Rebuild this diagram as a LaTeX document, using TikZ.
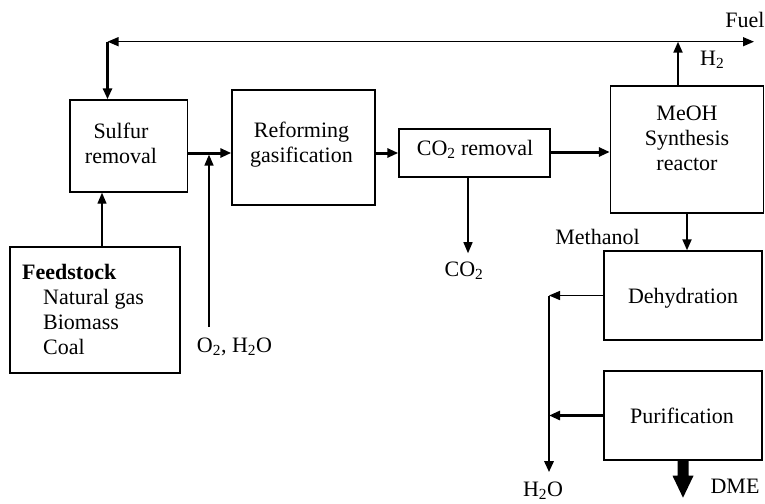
\documentclass[tikz,border=0pt]{standalone}
\usepackage{fontspec}
\setmainfont{Liberation Serif}
\usetikzlibrary{arrows.meta}
\begin{document}
\begin{tikzpicture}[x=1pt,y=-1pt,
  box/.style={draw,line width=1.4pt,inner sep=0pt},
  txt/.style={inner sep=0pt,font=\fontsize{22}{25}\selectfont},
  tip/.style={-{Triangle[length=11pt,width=9pt]}},
  tips/.style={{Triangle[length=11pt,width=9pt]}-{Triangle[length=11pt,width=9pt]}},
  thinl/.style={line width=1.3pt},
  medl/.style={line width=2pt},
  thickl/.style={line width=3pt}]
\useasboundingbox (0,0) rectangle (765,503);

% boxes
\node[box,minimum width=117.5pt,minimum height=92pt] (sulfur) at (128.75,146) {};
\node[box,minimum width=170pt,minimum height=126pt] (feed) at (95,310) {};
\node[box,minimum width=143pt,minimum height=115pt] (reform) at (303.5,147.5) {};
\node[box,minimum width=151pt,minimum height=48pt] (co2r) at (474.5,153) {};
\node[box,minimum width=153pt,minimum height=127pt] (meoh) at (687,149.5) {};
\node[box,minimum width=158pt,minimum height=89pt] (dehyd) at (683,295.5) {};
\node[box,minimum width=158pt,minimum height=89pt] (purif) at (683,415.5) {};

% texts (multi-line nodes: base = baseline of last line)
\node[txt,anchor=base,align=center] (sulfurt) at (121,163) {Sulfur\\removal};
\node[txt,anchor=base,align=center] (reformt) at (301.5,162) {Reforming\\gasification};
\node[txt,anchor=base] (co2rt) at (475,155) {CO\textsubscript{2} removal};
\node[txt,anchor=base,align=center] (meoht) at (687,170) {MeOH\\Synthesis\\reactor};
\node[txt,anchor=base] (dehydt) at (683,303) {Dehydration};
\node[txt,anchor=base] (puritt) at (682,423) {Purification};
\node[txt,anchor=base west,align=left] (feedt) at (22,354) {\textbf{Feedstock}\\\hspace*{21pt}Natural gas\\\hspace*{21pt}Biomass\\\hspace*{21pt}Coal};
\node[txt,anchor=base] (fuelt) at (745,28) {Fuel};
\node[txt,anchor=base west] (h2t) at (700,65) {H\textsubscript{2}};
\node[txt,anchor=base] (co2t) at (464,276) {CO\textsubscript{2}};
\node[txt,anchor=base] (metht) at (597.5,244) {Methanol};
\node[txt,anchor=base] (o2t) at (234.5,352) {O\textsubscript{2}, H\textsubscript{2}O};
\node[txt,anchor=base] (h2ot) at (543,496) {H\textsubscript{2}O};
\node[txt,anchor=base] (dmet) at (735,493) {DME};

% coordinates
\coordinate (tl) at (107.5,41.7);
\coordinate (tr) at (754,41.7);
\coordinate (j1) at (209,153);
\coordinate (vx) at (549,296);

% top line and recycle
\draw[thinl,tips] (tl) -- (tr);
\draw[thickl,tip] (tl) -- (tl |- sulfur.north);
\draw[medl,tip] ([xshift=-9pt]meoh.north) -- ([xshift=-9pt]meoh.north |- tr);

% feed to sulfur
\draw[thinl,tip] ([xshift=7pt]feed.north) -- ([xshift=7pt]feed.north |- sulfur.south);

% main line
\draw[thickl,tip] (sulfur.east |- j1) -- (reform.west |- j1);
\draw[tip,line width=1.6pt] (o2t.north -| j1) ++(0,-10) -- ([yshift=-1.6pt]j1);
\draw[thickl,tip] (reform.east |- co2r.west) -- (co2r.west);
\draw[thickl,tip] ([yshift=1pt]co2r.east) -- ([yshift=1pt]meoh.west |- co2r.east);
\draw[thinl,tip,shorten >=8pt] ([xshift=-6.5pt]co2r.south) -- ([xshift=-6.5pt]co2r.south |- co2t.north);

% methanol to dehydration
\draw[medl,tip] (meoh.south) -- (meoh.south |- dehyd.north);
\draw[thinl,tip] (dehyd.west) -- (vx |- dehyd.west);
\draw[tip,line width=2.7pt,shorten >=9pt] (vx |- dehyd.west) -- (vx |- h2ot.north);
\draw[thickl,tip] (purif.west) -- (vx |- purif.west);

% DME
\fill ([xshift=-5.5pt]purif.south) -- ++(0,15) -- ++(-5,0) -- ++(10.5,22) -- ++(10.5,-22) -- ++(-5,0) -- ++(0,-15) -- cycle;
\end{tikzpicture}
\end{document}
